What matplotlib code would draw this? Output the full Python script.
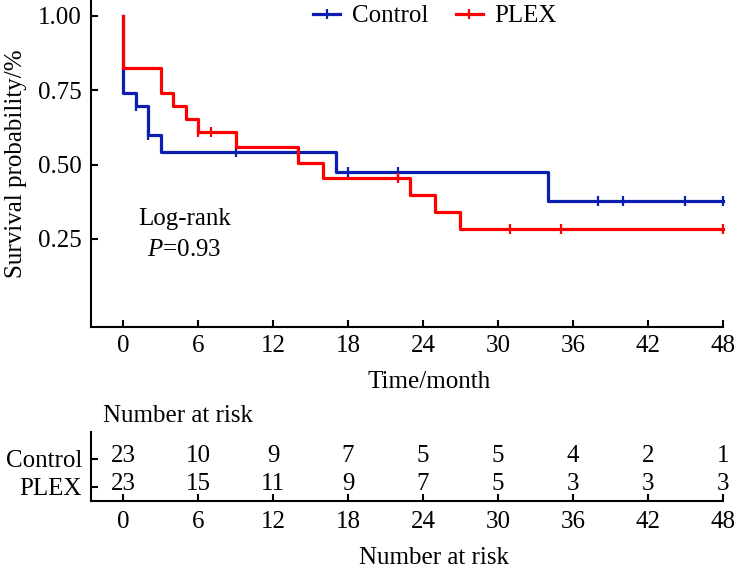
import numpy as np
import matplotlib
matplotlib.use('Agg')
import matplotlib.pyplot as plt
from matplotlib.lines import Line2D

plt.rcParams['font.family'] = ['Liberation Serif', 'DejaVu Serif']
plt.rcParams['mathtext.fontset'] = 'custom'
plt.rcParams['mathtext.rm'] = 'Liberation Serif'
plt.rcParams['mathtext.it'] = 'Liberation Serif:italic'

# Kaplan-Meier 阶梯数据
ctrl_time = [0, 0, 1, 2, 3, 17, 34, 48]
ctrl_surv = [1.0, 0.739, 0.696, 0.599, 0.543, 0.474, 0.379, 0.379]
ctrl_cens = [1, 2, 9, 14, 18, 22, 38, 40, 45, 48]

plex_time = [0, 0, 3, 4, 5, 6, 9, 14, 16, 23, 25, 27, 48]
plex_surv = [1.0, 0.826, 0.739, 0.696, 0.652, 0.610, 0.560, 0.506, 0.456, 0.399, 0.342, 0.285, 0.285]
plex_cens = [6, 7, 22, 31, 35, 48]

# 风险人数表
risk_time = [0, 6, 12, 18, 24, 30, 36, 42, 48]
risk_ctrl = [23, 10, 9, 7, 5, 5, 4, 2, 1]
risk_plex = [23, 15, 11, 9, 7, 5, 3, 3, 3]

blue = '#0c1eb0'
red = '#ff0000'
fs = 18


def surv_at(times, surv, t):
    # 在阶梯函数上取删失点的高度
    idx = np.searchsorted(times, t, side='right') - 1
    return np.array(surv)[idx]


fig = plt.figure(figsize=(7.35, 5.70), dpi=100)
W, H = 735, 570
ax = fig.add_axes([91 / W, 1 - 327 / H, 632 / W, 327 / H])

for tt, ss, cc, col in [(ctrl_time, ctrl_surv, ctrl_cens, blue),
                        (plex_time, plex_surv, plex_cens, red)]:
    ax.step(tt, ss, where='post', color=col, lw=2.3, clip_on=False)
    ax.plot(cc, surv_at(tt, ss, cc), ls='none', marker='|', ms=7.5, mew=1.6,
            color=col, clip_on=False)

ax.set_xlim(-2.56, 48)
ax.set_ylim(-0.0457, 1.053)
ax.set_xticks(risk_time)
ax.set_yticks([0.25, 0.50, 0.75, 1.00])
ax.set_yticklabels(['0.25', '0.50', '0.75', '1.00'])
for s in ['top', 'right']:
    ax.spines[s].set_visible(False)
for s in ['left', 'bottom']:
    ax.spines[s].set_linewidth(1.5)
ax.tick_params(axis='both', direction='in', length=5, width=1.5, labelsize=fs)
ax.tick_params(axis='y', pad=6.5)
ax.tick_params(axis='x', pad=5.5)

ax.set_ylabel('Survival probability/%', fontsize=fs)
ax.yaxis.set_label_coords((27 - 91) / 632, 0.5)

ax.text(4.9, 0.317, 'Log-rank', fontsize=fs, ha='center', va='center')
ax.text(4.9, 0.213, r'$P$=0.93', fontsize=fs, ha='center', va='center')

handles = [Line2D([], [], color=blue, lw=2.3, marker='|', ms=7.5, mew=1.6),
           Line2D([], [], color=red, lw=2.3, marker='|', ms=7.5, mew=1.6)]
ax.legend(handles, ['Control', 'PLEX'], loc='center', bbox_to_anchor=(0.544, 0.951),
          ncol=2, frameon=False, fontsize=fs, handlelength=1.1,
          handletextpad=0.45, columnspacing=1.1)

fig.text(429 / W, 1 - 388 / H, 'Time/month', fontsize=fs, ha='center', va='baseline')
fig.text(103 / W, 1 - 422 / H, 'Number at risk', fontsize=fs, ha='left', va='baseline')

# 风险表
rax = fig.add_axes([91 / W, 1 - 501 / H, 632 / W, 69 / H])
rax.set_xlim(-2.56, 48)
rax.set_ylim(-0.5, 1.96)
for t, a, b in zip(risk_time, risk_ctrl, risk_plex):
    rax.text(t, 1.1, str(a), fontsize=fs, ha='center', va='center')
    rax.text(t, 0.1, str(b), fontsize=fs, ha='center', va='center')
rax.set_xticks(risk_time)
rax.set_yticks([1, 0])
rax.set_yticklabels(['Control', 'PLEX'])
for s in ['top', 'right']:
    rax.spines[s].set_visible(False)
for s in ['left', 'bottom']:
    rax.spines[s].set_linewidth(1.5)
rax.tick_params(axis='both', direction='in', length=5, width=1.5, labelsize=fs)
rax.tick_params(axis='y', pad=6.5)
rax.tick_params(axis='x', pad=7)

fig.text(434 / W, 1 - 564 / H, 'Number at risk', fontsize=fs, ha='center', va='baseline')

fig.savefig('out.png', dpi=100)
